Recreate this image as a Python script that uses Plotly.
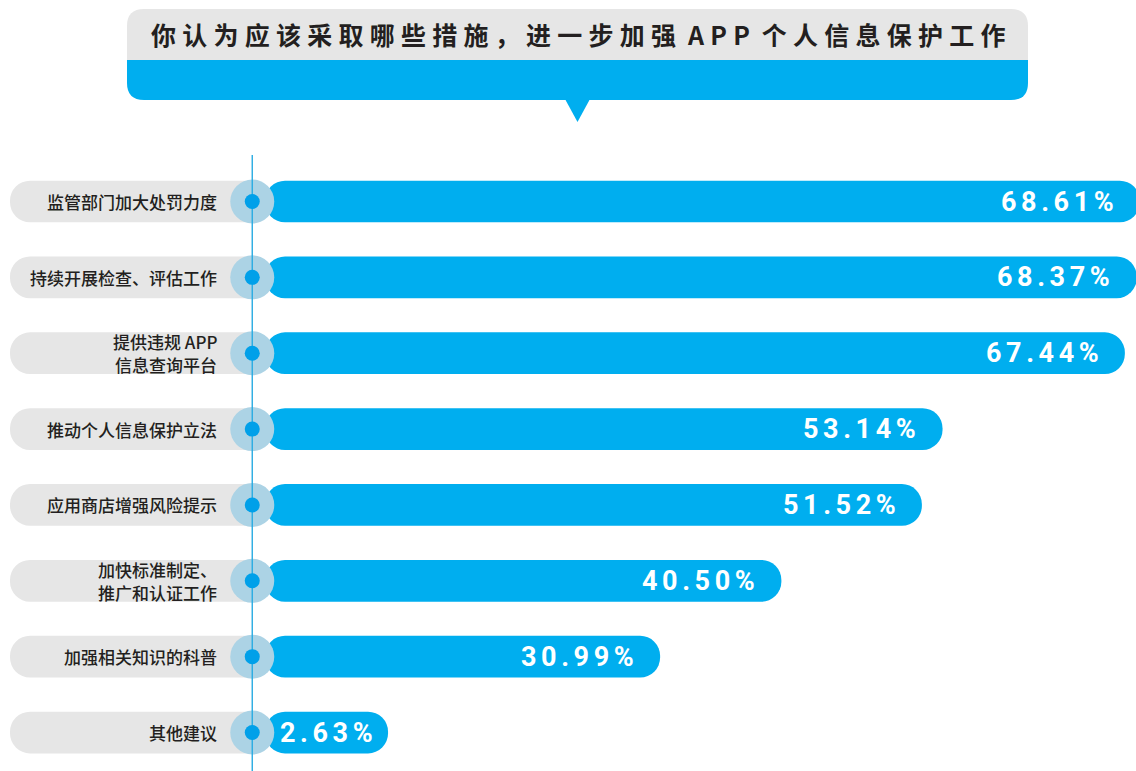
import plotly.graph_objects as go

# ---------------- data ----------------
categories = [
    "监管部门加大处罚力度",
    "持续开展检查、评估工作",
    "提供违规 APP<br>信息查询平台",
    "推动个人信息保护立法",
    "应用商店增强风险提示",
    "加快标准制定、<br>推广和认证工作",
    "加强相关知识的科普",
    "其他建议",
]
values = [68.61, 68.37, 67.44, 53.14, 51.52, 40.50, 30.99, 2.63]
value_labels = [f"{v:.2f}%" for v in values]
title_text = "你认为应该采取哪些措施，进一步加强 APP 个人信息保护工作"

# ---------------- style / layout constants ----------------
W, H = 1136, 771
TOP = 155                 # top of plot area (px)
PX0 = 265                 # pixel position of value 0
SCALE = 12.75             # px per percentage point
ROW0, PITCH = 201.5, 75.86
MIN_BAR = 9.65            # bars shorter than their label are stretched to fit it
PILL_LEFT = -20.0         # left end of grey label pill (axis units)
NODE_X = -1.0             # axis position of the circle nodes / vertical line
LABEL_X = -3.7            # right edge of category labels
PAD = 1.9                 # gap between value label and bar end (axis units)
PAD_SHORT = 1.0
LINE_GAP = 23             # px between lines of two-line labels

BLUE = "#00aeef"
DOT = "#00a0e9"
RING = "#acd3e5"
GREY = "#e6e6e6"
TEXT = "#231f20"


def spaced(s, sp):
    return sp.join(s).replace(sp + " " + sp, sp + " ")


n = len(categories)
ypos = list(range(n))
bar_end = [max(v, MIN_BAR) for v in values]

fig = go.Figure()

# grey label pills
fig.add_trace(go.Bar(
    y=ypos, x=[PILL_LEFT] * n, base=0, orientation="h", width=0.55,
    marker=dict(color=GREY, cornerradius=21, line=dict(width=0)),
    hoverinfo="skip", showlegend=False,
))
# blue value bars
fig.add_trace(go.Bar(
    y=ypos, x=bar_end, base=0, orientation="h", width=0.55,
    marker=dict(color=BLUE, cornerradius=21, line=dict(width=0)),
    hoverinfo="skip", showlegend=False,
))
# rings
fig.add_trace(go.Scatter(
    x=[NODE_X] * n, y=ypos, mode="markers",
    marker=dict(size=44, color=RING, line=dict(width=0)),
    hoverinfo="skip", showlegend=False,
))
# vertical axis line
y_top = -(ROW0 - TOP) / PITCH
y_bot = (H - ROW0) / PITCH
fig.add_trace(go.Scatter(
    x=[NODE_X, NODE_X], y=[y_top, y_bot], mode="lines",
    line=dict(color="#29abe2", width=1.4),
    hoverinfo="skip", showlegend=False,
))
# inner dots
fig.add_trace(go.Scatter(
    x=[NODE_X] * n, y=ypos, mode="markers",
    marker=dict(size=15, color=DOT, line=dict(width=0)),
    hoverinfo="skip", showlegend=False,
))

annotations = []
for i in range(n):
    lines = categories[i].split("<br>")
    k = len(lines)
    for j, line in enumerate(lines):
        annotations.append(dict(
            x=LABEL_X, y=ypos[i], xref="x", yref="y", text=line,
            showarrow=False, xanchor="right", yanchor="middle", align="right",
            yshift=((k - 1) / 2 - j) * LINE_GAP, borderpad=0,
            font=dict(family="Noto Sans CJK SC", size=17, color=TEXT, weight=500),
        ))
    pad = PAD if values[i] >= MIN_BAR else PAD_SHORT
    annotations.append(dict(
        x=bar_end[i] - pad, y=ypos[i], xref="x", yref="y",
        text=spaced(value_labels[i], "\u2006"),
        showarrow=False, xanchor="right", yanchor="middle",
        font=dict(family="Roboto", size=27, color="white", weight=700),
    ))

plot_h = H - TOP


def px(x):
    return x / W


def py(y):
    return (H - y) / plot_h


# title banner (decoration)
L, R, T, M, B, r = 127, 1028, 9, 60, 100, 17
grey_path = (f"M {px(L)},{py(M)} L {px(L)},{py(T + r)} Q {px(L)},{py(T)} {px(L + r)},{py(T)} "
             f"L {px(R - r)},{py(T)} Q {px(R)},{py(T)} {px(R)},{py(T + r)} L {px(R)},{py(M)} Z")
blue_path = (f"M {px(L)},{py(M)} L {px(R)},{py(M)} L {px(R)},{py(B - r)} Q {px(R)},{py(B)} {px(R - r)},{py(B)} "
             f"L {px(L + r)},{py(B)} Q {px(L)},{py(B)} {px(L)},{py(B - r)} Z")
tri_path = f"M {px(565)},{py(99)} L {px(590)},{py(99)} L {px(577.5)},{py(122)} Z"
shapes = [
    dict(type="path", xref="paper", yref="paper", path=grey_path, fillcolor=GREY, line=dict(width=0), layer="below"),
    dict(type="path", xref="paper", yref="paper", path=blue_path, fillcolor=BLUE, line=dict(width=0), layer="below"),
    dict(type="path", xref="paper", yref="paper", path=tri_path, fillcolor=BLUE, line=dict(width=0), layer="below"),
]
annotations.append(dict(
    x=px(577.5), y=py(34), xref="paper", yref="paper", text=spaced(title_text, "\u2005"),
    showarrow=False, xanchor="center", yanchor="middle",
    font=dict(family="Noto Sans CJK SC", size=25, color=TEXT, weight=700),
))

fig.update_layout(
    width=W, height=H,
    margin=dict(l=0, r=0, t=TOP, b=0, pad=0),
    paper_bgcolor="white", plot_bgcolor="white",
    barmode="overlay",
    xaxis=dict(visible=False, range=[-PX0 / SCALE, (W - PX0) / SCALE], fixedrange=True),
    yaxis=dict(visible=False, range=[y_bot, y_top], fixedrange=True),
    shapes=shapes, annotations=annotations,
    showlegend=False,
)

fig.write_html("out.html", config={"displayModeBar": False},
               post_script="document.body.style.margin='0px';")
